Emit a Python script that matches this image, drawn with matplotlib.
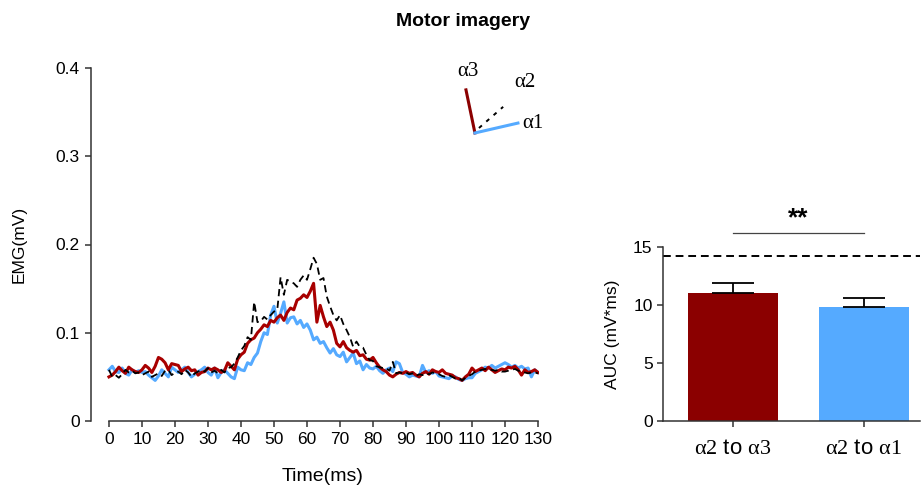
import numpy as np
import matplotlib
matplotlib.use("Agg")
import matplotlib.pyplot as plt

plt.rcParams['font.family'] = ['Liberation Sans', 'DejaVu Sans']
plt.rcParams['mathtext.fontset'] = 'custom'
plt.rcParams['mathtext.rm'] = 'Liberation Serif'

# EMG traces, 1 ms steps from 0 to 130 ms (mV)
time_ms = np.arange(0, 131)

emg_a2_a3 = [
    0.050, 0.052, 0.056, 0.061, 0.057, 0.054, 0.061, 0.058, 0.056, 0.055,
    0.058, 0.063, 0.060, 0.055, 0.062, 0.072, 0.070, 0.066, 0.058, 0.065,
    0.064, 0.063, 0.056, 0.059, 0.061, 0.057, 0.058, 0.052, 0.055, 0.056,
    0.060, 0.058, 0.060, 0.058, 0.055, 0.057, 0.066, 0.062, 0.058, 0.070,
    0.075, 0.078, 0.088, 0.092, 0.094, 0.100, 0.104, 0.109, 0.107, 0.114,
    0.112, 0.117, 0.120, 0.114, 0.123, 0.128, 0.126, 0.137, 0.139, 0.143,
    0.140, 0.147, 0.156, 0.112, 0.131, 0.118, 0.107, 0.112, 0.103, 0.088,
    0.084, 0.090, 0.083, 0.080, 0.078, 0.080, 0.074, 0.075, 0.070, 0.069,
    0.072, 0.066, 0.061, 0.058, 0.056, 0.052, 0.050, 0.053, 0.055, 0.054,
    0.056, 0.054, 0.055, 0.052, 0.050, 0.054, 0.056, 0.053, 0.058, 0.056,
    0.055, 0.058, 0.054, 0.053, 0.052, 0.049, 0.048, 0.046, 0.050, 0.053,
    0.060, 0.056, 0.058, 0.060, 0.057, 0.061, 0.058, 0.055, 0.057, 0.059,
    0.058, 0.061, 0.060, 0.062, 0.058, 0.052, 0.058, 0.055, 0.056, 0.058,
    0.055]

emg_a2_a1 = [
    0.058, 0.062, 0.056, 0.055, 0.060, 0.054, 0.052, 0.058, 0.055, 0.057,
    0.055, 0.056, 0.052, 0.049, 0.046, 0.051, 0.058, 0.054, 0.050, 0.061,
    0.058, 0.055, 0.058, 0.061, 0.055, 0.050, 0.053, 0.056, 0.058, 0.061,
    0.055, 0.052, 0.060, 0.049, 0.055, 0.058, 0.054, 0.050, 0.048, 0.061,
    0.058, 0.057, 0.066, 0.064, 0.072, 0.077, 0.090, 0.100, 0.098, 0.120,
    0.130, 0.111, 0.122, 0.135, 0.111, 0.117, 0.118, 0.110, 0.114, 0.106,
    0.110, 0.103, 0.092, 0.095, 0.088, 0.090, 0.083, 0.077, 0.082, 0.075,
    0.073, 0.078, 0.067, 0.072, 0.077, 0.065, 0.068, 0.058, 0.064, 0.060,
    0.059, 0.062, 0.057, 0.054, 0.058, 0.060, 0.056, 0.067, 0.065, 0.055,
    0.053, 0.050, 0.052, 0.051, 0.050, 0.063, 0.055, 0.057, 0.054, 0.056,
    0.051, 0.050, 0.049, 0.048, 0.051, 0.050, 0.047, 0.046, 0.048, 0.049,
    0.049, 0.054, 0.056, 0.058, 0.061, 0.060, 0.063, 0.060, 0.062, 0.064,
    0.066, 0.064, 0.061, 0.063, 0.060, 0.062, 0.059, 0.060, 0.050, 0.058,
    0.055]

emg_a2 = [
    0.058, 0.050, 0.052, 0.049, 0.053, 0.058, 0.055, 0.057, 0.054, 0.055,
    0.052, 0.054, 0.056, 0.050, 0.052, 0.054, 0.051, 0.057, 0.058, 0.052,
    0.055, 0.056, 0.053, 0.058, 0.055, 0.050, 0.054, 0.056, 0.058, 0.056,
    0.060, 0.055, 0.057, 0.054, 0.058, 0.055, 0.060, 0.061, 0.065, 0.072,
    0.080, 0.085, 0.095, 0.092, 0.135, 0.112, 0.113, 0.118, 0.115, 0.120,
    0.124, 0.126, 0.163, 0.143, 0.160, 0.158, 0.156, 0.152, 0.160, 0.165,
    0.160, 0.172, 0.185, 0.178, 0.160, 0.162, 0.141, 0.130, 0.120, 0.114,
    0.120, 0.110, 0.103, 0.095, 0.084, 0.090, 0.084, 0.083, 0.075, 0.069,
    0.068, 0.062, 0.061, 0.060, 0.060, 0.057, 0.067, 0.054, 0.055, 0.054,
    0.055, 0.053, 0.054, 0.051, 0.053, 0.052, 0.054, 0.053, 0.055, 0.054,
    0.053, 0.051, 0.050, 0.052, 0.050, 0.048, 0.049, 0.046, 0.049, 0.051,
    0.053, 0.056, 0.057, 0.058, 0.059, 0.057, 0.058, 0.057, 0.058, 0.056,
    0.056, 0.057, 0.058, 0.059, 0.057, 0.056, 0.055, 0.054, 0.055, 0.055,
    0.054]

# AUC bars
auc_labels = [r"$\mathrm{α2}$ to $\mathrm{α3}$", r"$\mathrm{α2}$ to $\mathrm{α1}$"]
auc_means = [11.05, 9.8]
auc_err = [0.85, 0.78]
auc_ref = 14.2   # dashed reference line

RED = "#A80000"
BAR_RED = "#8B0000"
BLUE = "#55AAFF"
SPINE = "#333333"

fig = plt.figure(figsize=(9.22, 4.95), dpi=100)

# ---- left: EMG traces
ax = fig.add_axes([91/922, 1-421/495, 448/922, 353/495])
ax.plot(time_ms, emg_a2_a1, color=BLUE, lw=2.2, zorder=2)
ax.plot(time_ms, emg_a2_a3, color=RED, lw=2.2, zorder=3)
ax.plot(time_ms, emg_a2, color="black", lw=1.3, ls=(0, (4, 2.5)), zorder=4)

ax.set_xlim(-5.44, 130.3)
ax.set_ylim(0, 0.4)
ax.set_xticks(np.arange(0, 131, 10))
ax.set_yticks([0, 0.1, 0.2, 0.3, 0.4])
ax.set_yticklabels(["0", "0.1", "0.2", "0.3", "0.4"])
for s in ["top", "right"]:
    ax.spines[s].set_visible(False)
ax.spines["left"].set_bounds(0, 0.4)
ax.spines["bottom"].set_bounds(0, 130)
for s in ["left", "bottom"]:
    ax.spines[s].set_color(SPINE)
    ax.spines[s].set_linewidth(1.1)
ax.tick_params(direction="out", length=4, width=1.1, color=SPINE,
               labelsize=12.5, pad=4)
ax.set_xlabel("Time(ms)", fontsize=14)
ax.xaxis.set_label_coords((323-91)/448, (421-468)/353)
ax.set_ylabel("EMG(mV)", fontsize=12.5)
ax.yaxis.set_label_coords((27-91)/448, 0.5)

# direction key (axes fraction coords)
ax.plot([0.857, 0.837], [0.816, 0.938], color=BAR_RED, lw=2.2,
        transform=ax.transAxes, clip_on=False)
ax.plot([0.857, 0.953], [0.816, 0.844], color=BLUE, lw=2.2,
        transform=ax.transAxes, clip_on=False)
ax.plot([0.866, 0.920], [0.830, 0.890], color="black", lw=1.4,
        ls=(0, (2, 3)), transform=ax.transAxes, clip_on=False)
key_font = dict(family="Liberation Serif", fontsize=15, transform=ax.transAxes,
                va="center")
ax.text(0.841, 0.99, "α3", ha="center", **key_font)
ax.text(0.945, 0.958, "α2", ha="left", **key_font)
ax.text(0.962, 0.844, "α1", ha="left", **key_font)

fig.text(463/922, 1-22/495, "Motor imagery", ha="center", va="center",
         fontsize=14, fontweight="bold")

# ---- right: AUC bars
bx = fig.add_axes([663/922, 1-421/495, 257/922, 174/495])
pos = np.arange(len(auc_means))
bx.bar(pos, auc_means, width=0.687, color=[BAR_RED, BLUE], zorder=2)
bx.errorbar(pos, auc_means, yerr=[[0, 0], auc_err], fmt="none",
            ecolor="black", elinewidth=1.3, capsize=15, capthick=1.3, zorder=3)
bx.axhline(auc_ref, color="black", lw=1.4, ls=(0, (4, 2.5)), zorder=1)
bx.set_xlim(-0.534, 1.43)
bx.set_ylim(0, 15)
bx.set_yticks([0, 5, 10, 15])
bx.set_xticks(pos)
for s in ["top", "right"]:
    bx.spines[s].set_visible(False)
for s in ["left", "bottom"]:
    bx.spines[s].set_color(SPINE)
    bx.spines[s].set_linewidth(1.1)
bx.tick_params(direction="out", length=4, width=1.1, color=SPINE, labelsize=12.5)
bx.tick_params(axis="x", pad=8)
bx.set_xticklabels(auc_labels, fontsize=16)
bx.set_ylabel("AUC (mV*ms)", fontsize=12.5)
bx.yaxis.set_label_coords((620-663)/257, 0.5)

# significance
bx.plot([0, 1], [16.2, 16.2], color="#444444", lw=0.9, clip_on=False)
bx.text(0.5, 16.4, "**", ha="center", va="bottom", fontsize=19,
        fontweight="bold", clip_on=False)

fig.savefig("out.png", dpi=100)
